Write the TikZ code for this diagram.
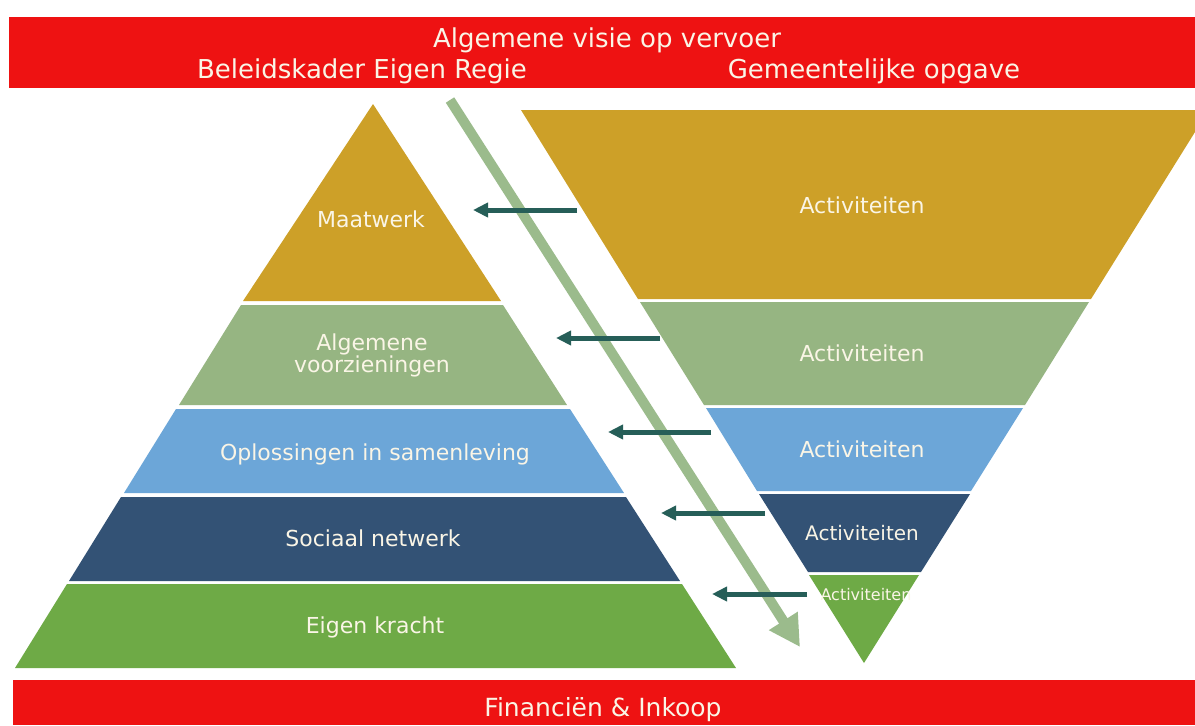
\documentclass[tikz,border=0pt]{standalone}
\usepackage{fontspec}
\setmainfont{DejaVu Sans}
\usepackage{tikz}
\usetikzlibrary{arrows.meta}

\definecolor{barred}{RGB}{238,18,18}
\definecolor{gold}{RGB}{205,160,40}
\definecolor{sage}{RGB}{150,181,130}
\definecolor{skyblue}{RGB}{108,166,216}
\definecolor{navy}{RGB}{51,82,117}
\definecolor{leaf}{RGB}{110,170,70}
\definecolor{pullteal}{RGB}{38,94,88}
\definecolor{flowgreen}{RGB}{155,187,140}
\definecolor{cream}{RGB}{250,245,230}

\tikzset{
  hdr/.style={text=cream, font=\fontsize{13}{15}\selectfont, anchor=base},
  lbl/.style={text=cream, font=\fontsize{11}{11}\selectfont, align=center, anchor=base},
  pull/.style={pullteal, line width=2.5pt, -{Triangle[length=7.5pt,width=7pt]}},
  flow/.style={flowgreen, line width=5pt, -{Triangle[length=15.5pt,width=16pt]}},
}

\begin{document}
\begin{tikzpicture}[x=0.5pt, y=-0.5pt]
        \useasboundingbox (0,0) rectangle (1195,725);
        \fill[white] (0,0) rectangle (1195,725);

        % Header bar
        \fill[barred] (9,17) rectangle (1195,88);
        \node[hdr] (visie) at (607,47) {Algemene visie op vervoer};
        \node[hdr] (kader) at (362,78) {Beleidskader Eigen Regie};
        \node[hdr] (opgave) at (874,78) {Gemeentelijke opgave};

        % Footer bar
        \fill[barred] (13,680) rectangle (1195,725);
        \node[hdr, font=\fontsize{12.5}{15}\selectfont] (financien) at (603,716) {Financiën \& Inkoop};

        % Left pyramid, top to bottom
        \fill[gold] (373,104) -- (501,301) -- (243,301) -- cycle;
        \fill[sage] (241,305) -- (503,305) -- (567,405) -- (179,405) -- cycle;
        \fill[skyblue] (176,409) -- (570,409) -- (624,493) -- (124,493) -- cycle;
        \fill[navy] (121,497) -- (626,497) -- (680,581) -- (69,581) -- cycle;
        \fill[leaf] (67,584) -- (682,584) -- (736,668) -- (15,668) -- cycle;

        \node[lbl] (maatwerk) at (371,227) {Maatwerk};
        \node[lbl, anchor=center] (algemeen) at (372,355) {Algemene\\voorzieningen};
        \node[lbl] (oplossing) at (375,460) {Oplossingen in samenleving};
        \node[lbl] (sociaal) at (373,546) {Sociaal netwerk};
        \node[lbl] (eigen) at (375,633) {Eigen kracht};

        % Right pyramid (upside down), top to bottom
        \fill[gold] (521,110) -- (1195,110) -- (1195,132) -- (1091,299) -- (638,299) -- cycle;
        \fill[sage] (640,302) -- (1089,302) -- (1025,405) -- (704,405) -- cycle;
        \fill[skyblue] (706,408) -- (1023,408) -- (971,491) -- (757,491) -- cycle;
        \fill[navy] (759,494) -- (970,494) -- (921,572) -- (808,572) -- cycle;
        \fill[leaf] (809,575) -- (919,575) -- (864,663) -- cycle;

        \node[lbl] (act1) at (862,213) {Activiteiten};
        \node[lbl] (act2) at (862,361) {Activiteiten};
        \node[lbl] (act3) at (862,457) {Activiteiten};
        \node[lbl, font=\fontsize{10}{10}\selectfont] (act4) at (862,540) {Activiteiten};
        \node[lbl, font=\fontsize{8}{8}\selectfont] (act5) at (866,600) {Activiteiten};

        % Arrows from activities to the left layers
        \coordinate (from1) at (577,210);  \coordinate (to1) at (473,210);
        \coordinate (from2) at (660,338);  \coordinate (to2) at (556,338);
        \coordinate (from3) at (711,432);  \coordinate (to3) at (608,432);
        \coordinate (from4) at (765,513);  \coordinate (to4) at (661,513);
        \coordinate (from5) at (807,594);  \coordinate (to5) at (712,594);

        % Big flow arrow down the gap
        \coordinate (flowtop) at (450,100);
        \coordinate (flowtip) at (800,647);
        \draw[flow] (flowtop) -- (flowtip);

        \draw[pull] (from1) -- (to1);
        \draw[pull] (from2) -- (to2);
        \draw[pull] (from3) -- (to3);
        \draw[pull] (from4) -- (to4);
        \draw[pull] (from5) -- (to5);

    \end{tikzpicture}
\end{document}
